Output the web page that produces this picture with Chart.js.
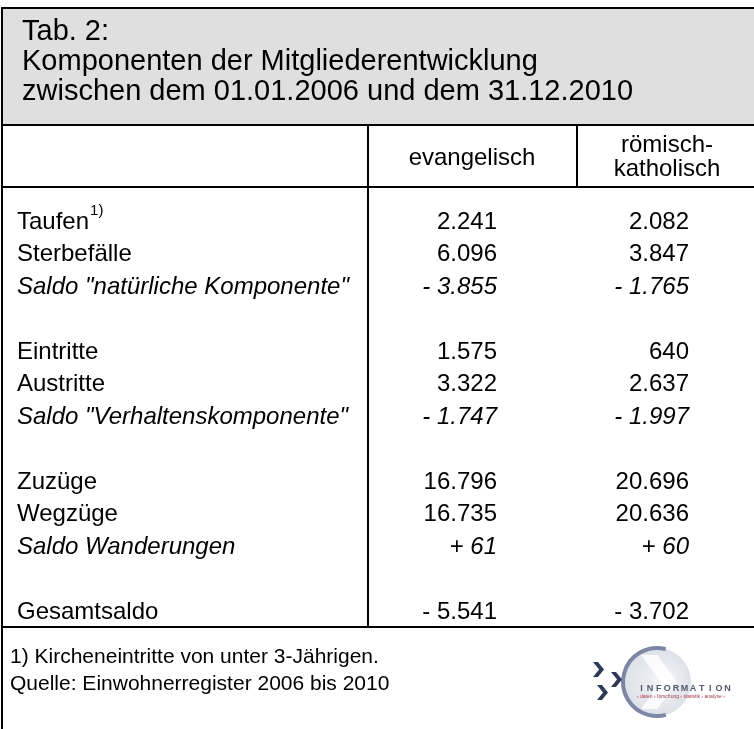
<!DOCTYPE html>
<html>
<head>
<meta charset="utf-8">
<script src="https://cdn.jsdelivr.net/npm/chart.js@4"></script>
<style>
  html, body { margin: 0; padding: 0; background: #fff; }
  #wrap { width: 754px; height: 729px; position: relative; }
</style>
</head>
<body>
<div id="wrap"><canvas id="tab2"></canvas></div>
<script>
const titleLines = ['Tab. 2:', 'Komponenten der Mitgliederentwicklung', 'zwischen dem 01.01.2006 und dem 31.12.2010'];
const columns = ['evangelisch', 'römisch-katholisch'];
const rowLabels = [
  'Taufen', 'Sterbefälle', 'Saldo "natürliche Komponente"', '',
  'Eintritte', 'Austritte', 'Saldo "Verhaltenskomponente"', '',
  'Zuzüge', 'Wegzüge', 'Saldo Wanderungen', '',
  'Gesamtsaldo'
];
const evangelisch = [2241, 6096, -3855, null, 1575, 3322, -1747, null, 16796, 16735, 61, null, -5541];
const katholisch = [2082, 3847, -1765, null, 640, 2637, -1997, null, 20696, 20636, 60, null, -3702];
const saldoRows = [2, 6, 10];   // italic, signed
const totalRow = 12;            // signed, upright
const footnoteRow = 0;          // "Taufen" gets the 1) mark
const footnotes = ['1) Kircheneintritte von unter 3-Jährigen.', 'Quelle: Einwohnerregister 2006 bis 2010'];

const FONT = '"Liberation Sans", Arial, Helvetica, sans-serif';
const values = [evangelisch, katholisch];

function fmt(v, signed) {
  const s = String(Math.abs(v)).replace(/\B(?=(\d{3})+(?!\d))/g, '.');
  if (!signed) return s;
  return (v < 0 ? '- ' : '+ ') + s;
}

function chevron(ctx, x, y, w, h) {
  ctx.beginPath();
  ctx.moveTo(x, y);
  ctx.lineTo(x + w * 0.45, y);
  ctx.lineTo(x + w, y + h / 2);
  ctx.lineTo(x + w * 0.45, y + h);
  ctx.lineTo(x, y + h);
  ctx.lineTo(x + w * 0.55, y + h / 2);
  ctx.closePath();
  ctx.fill();
}

function drawLogo(ctx) {
  const cx = 657, cy = 682, r = 34;
  ctx.save();
  const g = ctx.createRadialGradient(cx + 8, cy, 4, cx, cy, r);
  g.addColorStop(0, '#f3f4f7');
  g.addColorStop(1, '#dde0e7');
  ctx.fillStyle = g;
  ctx.beginPath();
  ctx.arc(cx, cy, r, 0, Math.PI * 2);
  ctx.fill();
  // big pale chevron
  ctx.fillStyle = 'rgba(255,255,255,0.85)';
  chevron(ctx, cx - 16, cy - 27, 36, 54);
  // arc
  ctx.strokeStyle = '#7c87a5';
  ctx.lineWidth = 4;
  ctx.beginPath();
  ctx.arc(cx, cy, r, -75 * Math.PI / 180, 75 * Math.PI / 180, true);
  ctx.stroke();
  // navy chevrons
  ctx.fillStyle = '#2c3a57';
  chevron(ctx, 593, 662, 11, 15);
  chevron(ctx, 597, 685, 11, 15);
  chevron(ctx, 611, 672, 11, 15);
  // lettering
  ctx.fillStyle = '#525a6c';
  ctx.font = 'bold 9px ' + FONT;
  ctx.textAlign = 'center';
  ctx.textBaseline = 'middle';
  const word = 'INFORMATION';
  for (let i = 0; i < word.length; i++) {
    ctx.fillText(word[i], 641.5 + i * 8.6, 689);
  }
  ctx.fillStyle = '#a53a4e';
  ctx.font = '5px ' + FONT;
  ctx.textAlign = 'left';
  ctx.fillText('› daten › forschung › statistik › analyse ›', 637, 697, 96);
  ctx.restore();
}

const tablePlugin = {
  id: 'tableFrame',
  beforeDraw(chart) {
    const ctx = chart.ctx;
    const W = chart.width, H = chart.height;
    ctx.save();
    ctx.fillStyle = '#fff';
    ctx.fillRect(0, 0, W, H);
    ctx.fillStyle = '#dfdfdf';
    ctx.fillRect(2, 8, W - 2, 117);
    ctx.strokeStyle = '#000';
    ctx.lineWidth = 2;
    ctx.beginPath();
    ctx.moveTo(1, 8); ctx.lineTo(W, 8);
    ctx.moveTo(2, 7); ctx.lineTo(2, H);
    ctx.moveTo(2, 125); ctx.lineTo(W, 125);
    ctx.moveTo(2, 187); ctx.lineTo(W, 187);
    ctx.moveTo(2, 627); ctx.lineTo(W, 627);
    ctx.moveTo(368, 125); ctx.lineTo(368, 627);
    ctx.moveTo(577, 125); ctx.lineTo(577, 187);
    ctx.stroke();

    // title
    ctx.fillStyle = '#000';
    ctx.font = '29px ' + FONT;
    ctx.textAlign = 'left';
    ctx.textBaseline = 'alphabetic';
    titleLines.forEach((t, i) => ctx.fillText(t, 22, 40 + i * 30));

    // footer
    ctx.font = '21px ' + FONT;
    ctx.textBaseline = 'middle';
    footnotes.forEach((t, i) => ctx.fillText(t, 10, 657 + i * 27));
    ctx.restore();
    drawLogo(ctx);
  },
  afterDatasetsDraw(chart) {
    const ctx = chart.ctx;
    const xs = chart.scales.x, ys = chart.scales.y;
    ctx.save();
    ctx.fillStyle = '#000';
    ctx.textBaseline = 'middle';

    // column heads
    ctx.font = '24px ' + FONT;
    ctx.textAlign = 'center';
    columns.forEach((c, ci) => {
      const parts = c.split(/(?<=-)/);
      const cx = xs.getPixelForValue(ci);
      if (parts.length === 1) {
        ctx.fillText(c, cx, 158);
      } else {
        parts.forEach((p, k) => ctx.fillText(p, cx + 3, 145 + k * 24));
      }
    });

    // row labels
    ctx.textAlign = 'left';
    rowLabels.forEach((lab, i) => {
      if (!lab) return;
      const y = ys.getPixelForValue(i);
      const italic = saldoRows.includes(i);
      ctx.font = (italic ? 'italic ' : '') + '24px ' + FONT;
      ctx.fillText(lab, 17, y);
      if (i === footnoteRow) {
        const w = ctx.measureText(lab).width;
        ctx.font = '15px ' + FONT;
        ctx.fillText('1)', 17 + w + 1, y - 11);
      }
    });

    // values, placed at each point of the datasets
    ctx.textAlign = 'right';
    chart.data.datasets.forEach((ds, di) => {
      const meta = chart.getDatasetMeta(di);
      meta.data.forEach((pt, k) => {
        const row = ds.data[k].y;
        const v = values[di][row];
        const italic = saldoRows.includes(row);
        const signed = italic || row === totalRow;
        ctx.font = (italic ? 'italic ' : '') + '24px ' + FONT;
        ctx.fillText(fmt(v, signed), pt.x + 25, pt.y);
      });
    });
    ctx.restore();
  }
};

const datasets = columns.map((c, ci) => ({
  label: c,
  data: values[ci]
    .map((v, i) => (v === null ? null : { x: c, y: i }))
    .filter(d => d !== null),
  pointRadius: 0,
  showLine: false
}));

new Chart(document.getElementById('tab2'), {
  type: 'scatter',
  data: { datasets },
  options: {
    responsive: true,
    maintainAspectRatio: false,
    animation: false,
    events: [],
    layout: { padding: { left: 472, right: 754 - 664, top: 222, bottom: 729 - 612 } },
    scales: {
      x: { type: 'category', labels: columns, offset: false, display: false },
      y: { type: 'linear', reverse: true, min: 0, max: rowLabels.length - 1, display: false }
    },
    plugins: { legend: { display: false }, title: { display: false }, tooltip: { enabled: false } }
  },
  plugins: [tablePlugin]
});
</script>
</body>
</html>
